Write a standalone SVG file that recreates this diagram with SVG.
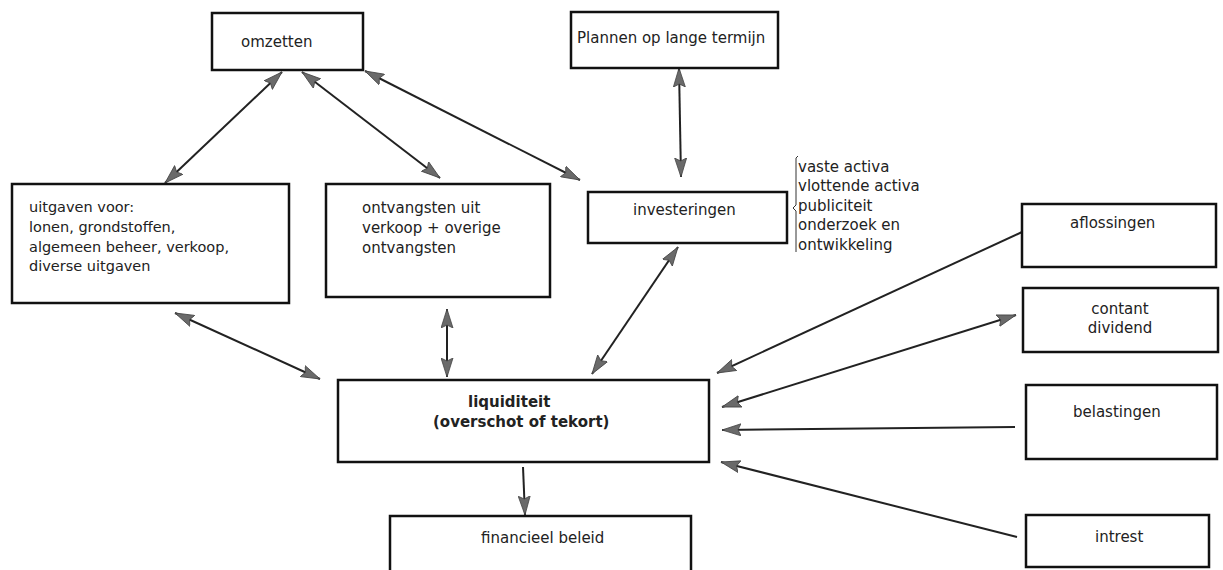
<svg xmlns="http://www.w3.org/2000/svg" width="1223" height="570" viewBox="0 0 1223 570">
<style>
.box{fill:#fff;stroke:#111;stroke-width:2.5}
.t{font-family:"DejaVu Sans",sans-serif;font-size:15px;fill:#222}
.s{font-size:14.5px}
.b{font-weight:bold}
.c{stroke:#222;stroke-width:2;fill:none}
</style>
<defs>
<marker id="ah" markerUnits="userSpaceOnUse" markerWidth="20" markerHeight="13" refX="19" refY="6.5" orient="auto-start-reverse" viewBox="0 0 20 13">
<path d="M0,0.5 L19,6.5 L0,12.5 L3,6.5 z" fill="#6a6a6a" stroke="#444" stroke-width="0.8"/>
</marker>
</defs>
<rect width="1223" height="570" fill="#fff"/>
<g id="connectors">
<line class="c" x1="282" y1="72" x2="165" y2="183" marker-start="url(#ah)" marker-end="url(#ah)"/>
<line class="c" x1="302" y1="72" x2="440" y2="178" marker-start="url(#ah)" marker-end="url(#ah)"/>
<line class="c" x1="365" y1="71" x2="580" y2="180" marker-start="url(#ah)" marker-end="url(#ah)"/>
<line class="c" x1="679" y1="68" x2="681" y2="177" marker-start="url(#ah)" marker-end="url(#ah)"/>
<line class="c" x1="175" y1="313" x2="320" y2="379" marker-start="url(#ah)" marker-end="url(#ah)"/>
<line class="c" x1="447" y1="309" x2="447" y2="377" marker-start="url(#ah)" marker-end="url(#ah)"/>
<line class="c" x1="678" y1="247" x2="592" y2="374" marker-start="url(#ah)" marker-end="url(#ah)"/>
<line class="c" x1="1022" y1="232" x2="717" y2="373" marker-end="url(#ah)"/>
<line class="c" x1="1016" y1="315" x2="722" y2="407" marker-start="url(#ah)" marker-end="url(#ah)"/>
<line class="c" x1="1015" y1="427" x2="722" y2="430" marker-end="url(#ah)"/>
<line class="c" x1="1017" y1="537" x2="721" y2="462" marker-end="url(#ah)"/>
<line class="c" x1="523" y1="467" x2="525" y2="515" marker-end="url(#ah)"/>
</g>
<g id="omzetten">
<rect class="box" x="212" y="13" width="151" height="57"/>
<text class="t" x="241" y="47">omzetten</text>
</g>
<g id="plannen">
<rect class="box" x="571" y="12" width="207" height="56"/>
<text class="t" x="577" y="43">Plannen op lange termijn</text>
</g>
<g id="uitgaven">
<rect class="box" x="12" y="184" width="277" height="119"/>
<text class="t s" x="29" y="212">uitgaven voor:</text>
<text class="t s" x="29" y="232">lonen, grondstoffen,</text>
<text class="t s" x="29" y="252">algemeen beheer, verkoop,</text>
<text class="t s" x="29" y="271">diverse uitgaven</text>
</g>
<g id="ontvangsten">
<rect class="box" x="326" y="184" width="224" height="113"/>
<text class="t" x="362" y="213">ontvangsten uit</text>
<text class="t" x="362" y="233">verkoop + overige</text>
<text class="t" x="362" y="253">ontvangsten</text>
</g>
<g id="investeringen">
<rect class="box" x="588" y="192" width="199" height="51"/>
<text class="t" x="633" y="215">investeringen</text>
</g>
<g id="investeringen-list">
<path d="M798,156 L796,158 L796,205 L793,208 L796,211 L796,252" fill="none" stroke="#333" stroke-width="1"/>
<text class="t" x="798" y="172">vaste activa</text>
<text class="t" x="798" y="191">vlottende activa</text>
<text class="t" x="798" y="211">publiciteit</text>
<text class="t" x="798" y="230">onderzoek en</text>
<text class="t" x="798" y="250">ontwikkeling</text>
</g>
<g id="liquiditeit">
<rect class="box" x="338" y="380" width="371" height="82"/>
<text class="t b" x="468" y="407">liquiditeit</text>
<text class="t b" x="433" y="427">(overschot of tekort)</text>
</g>
<g id="financieel">
<rect class="box" x="390" y="516" width="301" height="70"/>
<text class="t" x="481" y="543">financieel beleid</text>
</g>
<g id="aflossingen">
<rect class="box" x="1022" y="204" width="194" height="63"/>
<text class="t" x="1070" y="228">aflossingen</text>
</g>
<g id="contant">
<rect class="box" x="1023" y="288" width="195" height="64"/>
<text class="t" x="1120" y="314" text-anchor="middle">contant</text>
<text class="t" x="1120" y="333" text-anchor="middle">dividend</text>
</g>
<g id="belastingen">
<rect class="box" x="1026" y="385" width="191" height="74"/>
<text class="t" x="1073" y="417">belastingen</text>
</g>
<g id="intrest">
<rect class="box" x="1026" y="515" width="183" height="52"/>
<text class="t" x="1095" y="542">intrest</text>
</g>
</svg>
